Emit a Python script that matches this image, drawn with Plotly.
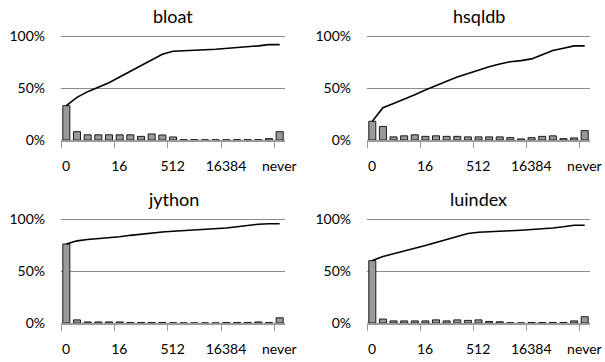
import plotly.graph_objects as go

# ---- data ----
categories = ["0", "1", "2", "4", "8", "16", "32", "64", "128", "256", "512",
              "1024", "2048", "4096", "8192", "16384", "32768", "65536",
              "131072", "262144", "never"]
label_idx = [0, 5, 10, 15, 20]

titles = ["bloat", "hsqldb", "jython", "luindex"]

bloat_bars = [33, 8, 5, 5, 5, 5, 5, 3.5, 5.8, 4.8, 2.9, 0.3, 0.3, 0.2, 0.2, 0.2, 0.3, 0.3, 0.3, 1.3, 8]
bloat_line = [33, 41, 46.5, 50.5, 55, 60.5, 66, 71.5, 77.5, 82.5, 85.3, 86, 86.4, 86.8, 87.3, 88, 88.8, 89.5, 90.5, 91.7, 91.7]

hsqldb_bars = [18, 13, 3, 4, 5, 3.5, 4, 3.5, 3.5, 3, 3, 3, 3, 2.3, 1, 2.3, 3.5, 4, 1.3, 2, 9]
hsqldb_line = [18, 31, 35, 39, 43.5, 48, 52.5, 56.5, 60.5, 64, 67.5, 70.5, 73, 75.3, 76.3, 78, 82, 86, 88.3, 90.5, 90.5]

jython_bars = [76, 3, 1, 1, 1, 1, 0.5, 0.5, 0.5, 0.5, 0.2, 0.1, 0.1, 0.1, 0.1, 0.5, 0.5, 0.5, 1, 0.5, 5]
jython_line = [76, 79, 80.3, 81, 82, 83, 84.3, 85.5, 86.5, 87.5, 88.2, 88.7, 89.2, 89.7, 90.3, 91.3, 92.5, 93.8, 95, 95.5, 95.5]

luindex_bars = [60, 3.8, 2, 2, 2, 2, 3, 2, 3, 2.5, 3, 1.5, 1.2, 0.3, 0.1, 0.5, 0.5, 0.5, 0.5, 2, 6]
luindex_line = [60, 64, 66.5, 69, 71.5, 74.5, 77.5, 80.5, 83.5, 86, 87.3, 88, 88.3, 88.7, 89.2, 89.8, 90.5, 91.3, 92.5, 94, 94]

y_ticks = [0, 50, 100]
y_tick_labels = ["0%", "50%", "100%"]

bars_all = [bloat_bars, hsqldb_bars, jython_bars, luindex_bars]
lines_all = [bloat_line, hsqldb_line, jython_line, luindex_line]

# ---- layout geometry (pixels) ----
W, H = 605, 362
x_doms = [(61, 285), (367, 590)]
y_doms = [(36, 140), (219, 323)]   # pixel rows of 100% and 0%
YMAX = 102.0

FONT = "Lato, 'Open Sans', sans-serif"
TEXT = "#000000"

fig = go.Figure()
xs = list(range(len(categories)))

for k in range(4):
    col = k % 2
    row = k // 2
    ax = "" if k == 0 else str(k + 1)
    fig.add_trace(go.Bar(
        x=xs, y=bars_all[k], xaxis="x" + ax, yaxis="y" + ax,
        width=0.66, marker=dict(color="#9a9a9a", line=dict(color="#1a1a1a", width=1)),
        showlegend=False, hoverinfo="skip"))
    fig.add_trace(go.Scatter(
        x=xs, y=lines_all[k], xaxis="x" + ax, yaxis="y" + ax, mode="lines",
        line=dict(color="#000000", width=1.6), showlegend=False, hoverinfo="skip"))

    x0, x1 = x_doms[col]
    y100, y0 = y_doms[row]
    ytop = y0 - (y0 - y100) * YMAX / 100.0
    catw = (x1 - x0) / len(categories)
    fig.layout["xaxis" + ax] = dict(
        domain=[x0 / W, x1 / W], anchor="y" + ax, range=[-0.5, len(categories) - 0.5],
        tickmode="array", tickvals=[i - 0.5 for i in label_idx],
        ticktext=[categories[i] for i in label_idx],
        ticklabelshift=int(round(catw / 2)), ticks="outside", ticklen=6, tickwidth=1,
        tickcolor="#9a9a9a", showline=True, linecolor="#9a9a9a", linewidth=1.5,
        showgrid=False, zeroline=False, ticklabelstandoff=7, automargin=False,
        tickfont=dict(family=FONT, size=14, color=TEXT), fixedrange=True)
    fig.layout["yaxis" + ax] = dict(
        domain=[1 - y0 / H, 1 - ytop / H], anchor="x" + ax, range=[0, YMAX],
        tickmode="array", tickvals=y_ticks, ticktext=y_tick_labels,
        showgrid=True, gridcolor="#8c8c8c", gridwidth=1, zeroline=False,
        showline=False, ticks="", ticklabelstandoff=15, automargin=False,
        tickfont=dict(family=FONT, size=14, color=TEXT), fixedrange=True)
    fig.add_annotation(
        text=titles[k], xref="paper", yref="paper",
        x=(x0 + x1) / 2 / W, y=1 - (y100 - 20.5) / H, xanchor="center", yanchor="middle",
        showarrow=False, font=dict(family=FONT, size=18, color=TEXT))

fig.update_layout(
    width=W, height=H, autosize=False, margin=dict(l=0, r=0, t=0, b=0),
    paper_bgcolor="white", plot_bgcolor="white", bargap=0.3, showlegend=False)

fig.write_html("out.html", config={"displayModeBar": False, "staticPlot": True},
               post_script="document.body.style.margin='0';")
